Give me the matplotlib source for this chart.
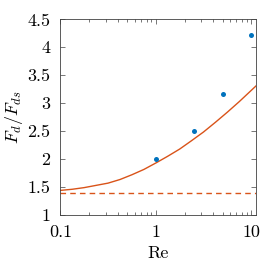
import numpy as np
import matplotlib
matplotlib.use("Agg")
import matplotlib.pyplot as plt
from matplotlib.ticker import FixedLocator, LogLocator, NullFormatter

plt.rcParams['font.family'] = 'serif'
plt.rcParams['font.serif'] = ['cmr10', 'DejaVu Serif']
plt.rcParams['mathtext.fontset'] = 'cm'
plt.rcParams['axes.formatter.use_mathtext'] = True

# measured points
re_pts = [1, 2.5, 5, 10]
fd_pts = [2.0, 2.51, 3.17, 4.22]

# model curve
re_curve = [0.1, 0.133, 0.178, 0.237, 0.316, 0.422, 0.562, 0.75, 1,
            1.33, 1.78, 2.37, 3.16, 4.22, 5.62, 7.5, 10, 11.3]
fd_curve = [1.44, 1.46, 1.49, 1.53, 1.57, 1.635, 1.72, 1.815, 1.93,
            2.05, 2.18, 2.33, 2.485, 2.66, 2.84, 3.03, 3.23, 3.315]

# Stokes limit
fd_stokes = 1.4

xticks = [0.1, 1, 10]
xticklabels = ['0.1', '1', '10']
yticks = [1, 1.5, 2, 2.5, 3, 3.5, 4, 4.5]
yticklabels = ['1', '1.5', '2', '2.5', '3', '3.5', '4', '4.5']

blue = '#0072BD'
orange = '#D95319'
axcol = '#404040'

fig = plt.figure(figsize=(2.73, 2.73), dpi=100)
ax = fig.add_axes([0.221, 0.2125, 0.718, 0.7165])

ax.plot(re_curve, fd_curve, color=orange, lw=1.0)
ax.axhline(fd_stokes, color=orange, lw=1.0, ls=(0, (4, 3)))
ax.plot(re_pts, fd_pts, 'o', color=blue, ms=3.6, mew=0)

ax.set_xscale('log')
ax.set_xlim(0.1, 11.3)
ax.set_ylim(1, 4.5)
ax.xaxis.set_major_locator(FixedLocator(xticks))
ax.set_xticklabels(xticklabels)
ax.xaxis.set_minor_locator(LogLocator(base=10, subs=np.arange(2, 10)))
ax.xaxis.set_minor_formatter(NullFormatter())
ax.set_yticks(yticks)
ax.set_yticklabels(yticklabels)

ax.tick_params(which='both', direction='in', top=True, right=True,
               color=axcol, labelsize=13, width=0.5)
ax.tick_params(which='major', length=3.5, pad=7)
ax.tick_params(which='minor', length=2)
for s in ax.spines.values():
    s.set_color(axcol)
    s.set_linewidth(0.6)

ax.set_xlabel('Re', fontsize=13, labelpad=4)
ax.set_ylabel(r'$F_d/F_{ds}$', fontsize=13, labelpad=2)

fig.savefig('out.png', dpi=100)
